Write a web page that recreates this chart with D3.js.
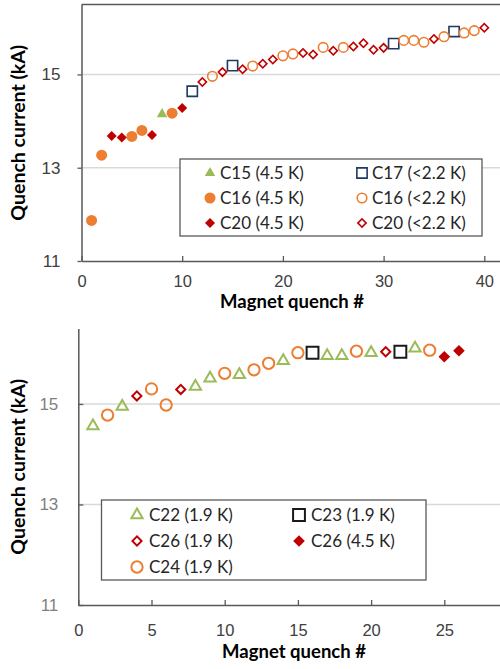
<!DOCTYPE html>
<html>
<head>
<meta charset="utf-8">
<script src="https://cdn.jsdelivr.net/npm/d3@7"></script>
<style>
  body { margin: 0; background: #fff; }
  svg { display: block; font-family: Lato, "Open Sans", sans-serif; }
</style>
</head>
<body>
<svg id="chart" width="500" height="669"></svg>
<script>
// top panel: quench # vs current (kA)
const c15_45K = [[8, 14.15]];
const c16_45K = [[1, 11.87], [2, 13.27], [5, 13.67], [6, 13.80], [9, 14.17]];
const c20_45K = [[3, 13.68], [4, 13.65], [7, 13.70], [10, 14.28]];
const c17_22K = [[11, 14.64], [15, 15.19], [31, 15.66], [37, 15.92]];
const c16_22K = [[13, 14.96], [17, 15.18], [20, 15.40], [21, 15.44], [24, 15.58], [26, 15.58],
  [32, 15.73], [33, 15.73], [34, 15.69], [36, 15.81], [38, 15.89], [39, 15.94]];
const c20_22K = [[12, 14.84], [14, 15.05], [16, 15.11], [18, 15.23], [19, 15.32], [22, 15.46],
  [23, 15.43], [25, 15.51], [27, 15.60], [28, 15.67], [29, 15.53], [30, 15.57], [35, 15.76], [40, 16.0]];

// bottom panel
const c22_19K = [[1, 14.56], [3, 14.95], [8, 15.35], [9, 15.51], [11, 15.58], [14, 15.86],
  [17, 15.96], [18, 15.96], [20, 16.02], [23, 16.11]];
const c23_19K = [[16, 16.02], [22, 16.04]];
const c26_19K = [[4, 15.16], [7, 15.29], [21, 16.04]];
const c26_45K = [[25, 15.94], [26, 16.06]];
const c24_19K = [[2, 14.78], [5, 15.30], [6, 14.98], [10, 15.61], [12, 15.68], [13, 15.81],
  [15, 16.02], [19, 16.05], [24, 16.07]];

const topXTicks = [0, 10, 20, 30, 40];
const bottomXTicks = [0, 5, 10, 15, 20, 25];
const yTicks = [11, 13, 15];

const GREEN = "#9bbb59", ORANGE = "#ed7d31", RED = "#c00000", NAVY = "#203864", BLACK = "#1a1a1a";

const topSeries = [
  {label: "C15 (4.5 K)", data: c15_45K, shape: "triangle", color: GREEN, filled: true, size: 48},
  {label: "C17 (<2.2 K)", data: c17_22K, shape: "square", color: NAVY, filled: false, size: 105},
  {label: "C16 (4.5 K)", data: c16_45K, shape: "circle", color: ORANGE, filled: true, size: 95},
  {label: "C16 (<2.2 K)", data: c16_22K, shape: "circle", color: ORANGE, filled: false, size: 72},
  {label: "C20 (4.5 K)", data: c20_45K, shape: "diamond", color: RED, filled: true, size: 50},
  {label: "C20 (<2.2 K)", data: c20_22K, shape: "diamond", color: RED, filled: false, size: 34}
];

const bottomSeries = [
  {label: "C22 (1.9 K)", data: c22_19K, shape: "triangle", color: GREEN, filled: false, size: 55, sw: 2},
  {label: "C23 (1.9 K)", data: c23_19K, shape: "square", color: BLACK, filled: false, size: 140, sw: 2},
  {label: "C26 (1.9 K)", data: c26_19K, shape: "diamond", color: RED, filled: false, size: 42, sw: 2},
  {label: "C26 (4.5 K)", data: c26_45K, shape: "diamond", color: RED, filled: true, size: 68},
  {label: "C24 (1.9 K)", data: c24_19K, shape: "circle", color: ORANGE, filled: false, size: 100, sw: 2}
];

const shapes = {
  triangle: d3.symbolTriangle,
  square: d3.symbolSquare,
  diamond: d3.symbolSquare,
  circle: d3.symbolCircle
};

function marker(sel, s) {
  sel.attr("d", d3.symbol(shapes[s.shape], s.size)())
    .attr("fill", s.filled ? s.color : "none")
    .attr("stroke", s.filled ? "none" : s.color)
    .attr("stroke-width", s.sw || 1.6);
}

function tf(s, x, y) {
  return `translate(${x},${y})` + (s.shape === "diamond" ? " rotate(45)" : "");
}

const svg = d3.select("#chart");

function drawPanel(p) {
  const x = d3.scaleLinear().domain(p.xDomain).range([p.left, p.right]);
  const y = d3.scaleLinear().domain([11, 16.5]).range([p.bottom, p.top]);
  const g = svg.append("g");

  // grid
  g.selectAll(".grid").data(yTicks.slice(1)).join("line")
    .attr("x1", p.left).attr("x2", 500)
    .attr("y1", d => y(d)).attr("y2", d => y(d))
    .attr("stroke", "#d9d9d9").attr("stroke-width", 1.5);

  if (p.frame) {
    g.append("line").attr("x1", p.left).attr("x2", 500)
      .attr("y1", y(16.5)).attr("y2", y(16.5))
      .attr("stroke", "#595959").attr("stroke-width", 1.5);
  }

  // x axis
  const xAxis = d3.axisBottom(x).tickValues(p.xTicks).tickSizeInner(-5).tickSizeOuter(0).tickPadding(p.xPad);
  const xa = g.append("g").attr("transform", `translate(0,${p.bottom})`).call(xAxis);
  xa.select(".domain").attr("stroke", "#595959").attr("stroke-width", 1.5);
  xa.selectAll(".tick line").attr("stroke", "#595959").attr("stroke-width", 1.3);
  xa.selectAll(".tick text").attr("font-size", 16.5).attr("fill", "#404040").attr("font-family", null);

  // y axis
  const yAxis = d3.axisLeft(y).tickValues(yTicks).tickFormat(d3.format("d"))
    .tickSizeInner(p.yTickIn ? -5 : 4).tickSizeOuter(0).tickPadding(p.yTickIn ? 20 : 17);
  const ya = g.append("g").attr("transform", `translate(${p.left},0)`).call(yAxis);
  ya.select(".domain").attr("stroke", "#595959").attr("stroke-width", 1.5);
  ya.selectAll(".tick line").attr("stroke", "#595959").attr("stroke-width", 1.3);
  ya.selectAll(".tick text").attr("font-size", 17).attr("fill", p.yTickColor).attr("font-family", null);

  // axis titles
  g.append("text").attr("x", p.xTitleX).attr("y", p.xTitleY)
    .attr("text-anchor", "middle").attr("font-weight", "bold").attr("font-size", 18.5)
    .attr("fill", "#000").text("Magnet quench #");
  g.append("text")
    .attr("transform", `translate(25,${(p.top + p.bottom) / 2}) rotate(-90)`)
    .attr("text-anchor", "middle").attr("font-weight", "bold").attr("font-size", 19.5)
    .attr("fill", "#000").text("Quench current (kA)");

  // legend box
  const L = p.legend;
  g.append("rect").attr("x", L.x).attr("y", L.y).attr("width", L.w).attr("height", L.h)
    .attr("fill", "#fff").attr("stroke", "#595959").attr("stroke-width", 1.3);

  // points
  p.series.forEach(s => {
    g.append("g").selectAll("path").data(s.data).join("path")
      .call(marker, s)
      .attr("transform", d => tf(s, x(d[0]), y(d[1])));
  });

  // legend entries
  p.series.forEach((s, i) => {
    const col = i % 2, row = Math.floor(i / 2);
    const mx = L.colX[col], my = L.rowY[row];
    g.append("path").call(marker, s).attr("transform", tf(s, mx, my));
    g.append("text").attr("x", mx + L.gap).attr("y", my).attr("dy", "0.36em")
      .attr("font-size", L.fs).attr("fill", "#262626").text(s.label);
  });
}

drawPanel({
  series: topSeries, xDomain: [0, 42], xTicks: topXTicks, xPad: 14,
  left: 81.5, right: 81.5 + 42 * 10.07, top: 4.5, bottom: 261,
  frame: true, yTickColor: "#404040",
  xTitleX: 292, xTitleY: 308,
  legend: {x: 180, y: 159, w: 302, h: 77, colX: [210, 362], rowY: [173, 198, 223], gap: 10, fs: 17}
});

drawPanel({
  series: bottomSeries, xDomain: [0, 30], xTicks: bottomXTicks, xPad: 19,
  left: 78.3, right: 78.3 + 30 * 14.64, top: 328.6, bottom: 605,
  frame: false, yTickIn: true, yTickColor: "#7f7f7f",
  xTitleX: 294, xTitleY: 658,
  legend: {x: 101.5, y: 500, w: 324.5, h: 80, colX: [137, 299], rowY: [515, 541, 567], gap: 12, fs: 17}
});
</script>
</body>
</html>
